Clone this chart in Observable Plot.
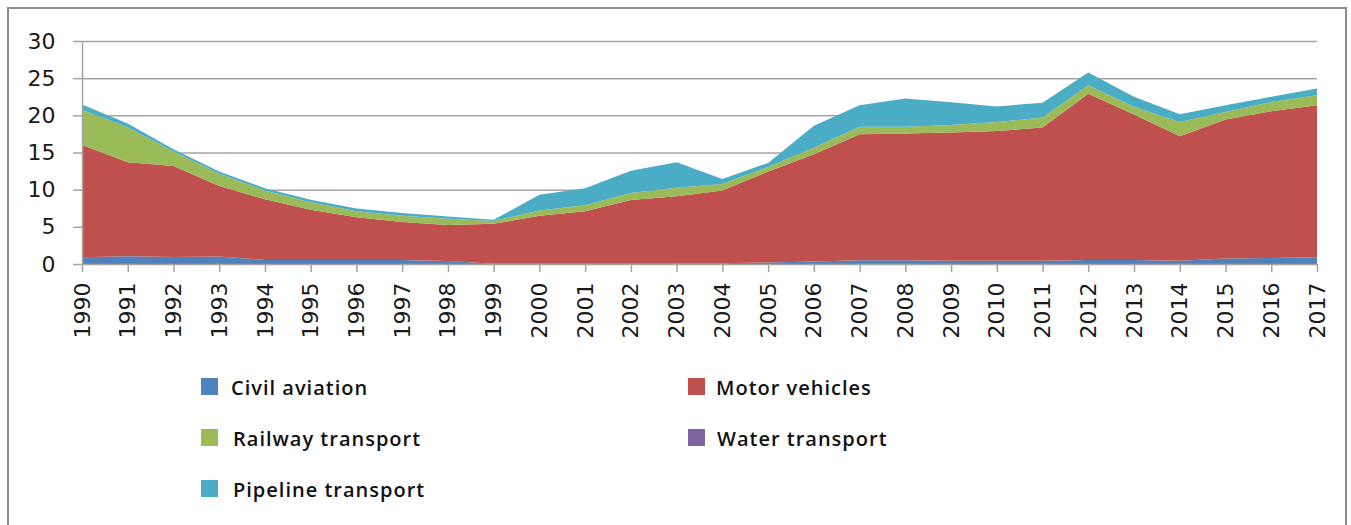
<!DOCTYPE html>
<html>
<head>
<meta charset="utf-8">
<script src="https://cdn.jsdelivr.net/npm/d3@7"></script>
<script src="https://cdn.jsdelivr.net/npm/@observablehq/plot@0.6"></script>
<style>
  html, body { margin: 0; padding: 0; background: #fff; overflow: hidden; width: 1351px; height: 525px; }
  #frame { position: absolute; left: 7px; top: 7px; width: 1340px; height: 640px; border: 2px solid #8e8e8e; box-sizing: border-box; }
  #chart { position: absolute; left: 0; top: 0; }
  .leg { position: absolute; font-family: "Open Sans", sans-serif; font-weight: 600; font-size: 20px; letter-spacing: 1px; color: #111; line-height: 20px; white-space: nowrap; }
  .sw { position: absolute; width: 17px; height: 17px; }
</style>
</head>
<body>
<div id="frame"></div>
<div id="chart"></div>
<div id="legend"></div>
<script>
const years = [1990,1991,1992,1993,1994,1995,1996,1997,1998,1999,2000,2001,2002,2003,2004,2005,2006,2007,2008,2009,2010,2011,2012,2013,2014,2015,2016,2017];
const seriesNames = ["Civil aviation", "Motor vehicles", "Railway transport", "Water transport", "Pipeline transport"];
const seriesColors = ["#4F81BD", "#C0504D", "#9BBB59", "#8064A2", "#4BACC6"];
const civilAviation = [0.9,1.05,0.95,1.0,0.55,0.55,0.55,0.55,0.4,0.05,0.02,0.02,0.02,0.02,0.1,0.2,0.35,0.5,0.5,0.45,0.45,0.45,0.55,0.55,0.45,0.75,0.8,0.9];
const motorVehicles = [15.1,12.65,12.25,9.5,8.15,6.75,5.75,5.1,4.85,5.35,6.48,7.08,8.58,9.08,9.8,12.25,14.4,16.95,17.05,17.25,17.45,17.9,22.35,19.55,16.75,18.7,19.75,20.45];
const railwayTransport = [4.75,4.7,1.95,1.65,1.2,1.0,0.8,0.85,0.85,0.4,0.7,0.8,0.95,1.15,0.85,0.6,0.9,1.0,0.9,1.0,1.2,1.35,1.15,1.05,1.9,1.0,1.25,1.35];
const waterTransport = [0,0,0,0,0,0,0,0,0,0,0,0,0,0,0,0,0,0,0,0,0,0,0,0,0,0,0,0];
const pipelineTransport = [0.72,0.5,0.3,0.3,0.3,0.35,0.35,0.35,0.3,0.15,2.1,2.3,3.0,3.45,0.7,0.55,2.95,2.9,3.8,3.05,2.1,2.0,1.7,1.35,1.05,0.9,0.7,0.9];
const yTicks = [0,5,10,15,20,25,30];

const seriesValues = [civilAviation, motorVehicles, railwayTransport, waterTransport, pipelineTransport];
const data = [];
seriesNames.forEach((name, i) => {
  years.forEach((yr, j) => data.push({year: yr, series: name, value: seriesValues[i][j]}));
});

const gridColor = "#a4a4a4";
const chart = Plot.plot({
  width: 1351,
  height: 350,
  marginLeft: 82,
  marginRight: 34,
  marginTop: 41,
  marginBottom: 86,
  style: { fontFamily: "DejaVu Sans, sans-serif", fontSize: "22px", color: "#1a1a1a", background: "transparent" },
  x: { type: "linear", domain: [1990, 2017] },
  y: { domain: [0, 30] },
  color: { domain: seriesNames, range: seriesColors },
  marks: [
    Plot.gridY(yTicks.slice(1), { stroke: gridColor, strokeOpacity: 1, strokeWidth: 1.5 }),
    Plot.areaY(data, { x: "year", y: "value", fill: "series", z: "series", order: seriesNames }),
    Plot.ruleY([0], { stroke: gridColor, strokeWidth: 1.5 }),
    Plot.ruleX([1990], { stroke: gridColor, strokeWidth: 1.5 }),
    Plot.axisY({ ticks: yTicks, tickSize: 9, tickPadding: 18, stroke: gridColor, strokeWidth: 1.5, tickFormat: d => String(d), label: null }),
    Plot.axisX({ ticks: years, tickSize: 8, tickPadding: 10, tickRotate: -90, stroke: gridColor, strokeWidth: 1.5, tickFormat: d => String(d), label: null })
  ]
});
document.getElementById("chart").appendChild(chart);

// legend
const legendPos = [
  {sx: 201, sy: 378, tx: 231, ty: 378},
  {sx: 688, sy: 378, tx: 716, ty: 378},
  {sx: 201, sy: 429, tx: 233, ty: 429},
  {sx: 688, sy: 429, tx: 717, ty: 429},
  {sx: 201, sy: 480, tx: 233, ty: 480}
];
const leg = document.getElementById("legend");
seriesNames.forEach((name, i) => {
  const p = legendPos[i];
  const sw = document.createElement("div");
  sw.className = "sw";
  sw.style.left = p.sx + "px"; sw.style.top = p.sy + "px"; sw.style.background = seriesColors[i];
  leg.appendChild(sw);
  const t = document.createElement("div");
  t.className = "leg";
  t.style.left = p.tx + "px"; t.style.top = p.ty + "px";
  t.textContent = name;
  leg.appendChild(t);
});
</script>
</body>
</html>
